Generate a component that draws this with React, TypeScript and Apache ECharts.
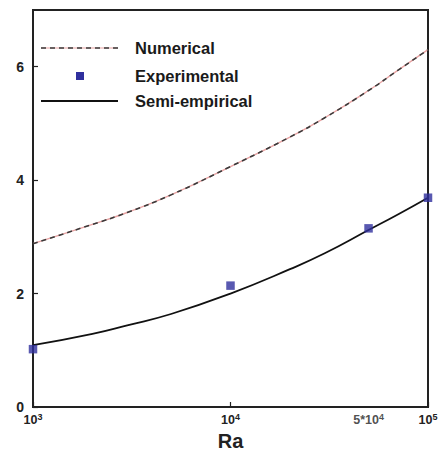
import React, { useEffect, useRef } from 'react';
import * as echarts from 'echarts';

// Rayleigh numbers at which the curves were read
const raValues = [1000, 2000, 3000, 5000, 10000, 20000, 30000, 50000, 70000, 100000];
// Numerical curve (dashed)
const numerical = [2.88, 3.22, 3.43, 3.74, 4.24, 4.76, 5.1, 5.58, 5.93, 6.3];
// Semi-empirical curve (solid)
const semiEmpirical = [1.09, 1.29, 1.44, 1.64, 2.0, 2.43, 2.71, 3.12, 3.39, 3.69];
// Experimental points
const expRa = [1000, 10000, 50000, 100000];
const experimental = [1.02, 2.14, 3.15, 3.69];
// Extra x tick label (not a power of ten)
const extraTickRa = [50000];
const extraTickLabels = ['5*10{s|4}'];
// Legend names
const legendNames = ['Numerical', 'Experimental', 'Semi-empirical'];

const FONT = '"Liberation Sans", Arial, Helvetica, sans-serif';
const supRich = {
  s: { fontSize: 9, fontWeight: 'bold', fontFamily: FONT, color: '#222', verticalAlign: 'top', padding: [0, 0, 7, 0] },
};

export default function App() {
  const ref = useRef<HTMLDivElement>(null);
  useEffect(() => {
    if (!ref.current) return;
    const chart = echarts.init(ref.current, null, { renderer: 'svg' });
    const lineData = (vals: number[]) => raValues.map((r, i) => [r, vals[i]]);
    const legendText = (text: string, y: number) => ({
      type: 'text',
      x: 135,
      y,
      style: { text, fontSize: 16.5, fontWeight: 'bold', fontFamily: FONT, fill: '#1a1a1a', verticalAlign: 'middle' },
    });
    chart.setOption({
      animation: false,
      backgroundColor: '#ffffff',
      grid: {
        left: 33,
        right: 15,
        top: 10,
        bottom: 44,
        show: true,
        borderColor: '#222',
        borderWidth: 2,
        outerBoundsMode: 'none',
      },
      xAxis: {
        type: 'log',
        logBase: 10,
        min: 1000,
        max: 100000,
        name: 'Ra',
        nameLocation: 'middle',
        nameGap: 22,
        nameTextStyle: { fontSize: 20, fontWeight: 'bold', fontFamily: FONT, color: '#222' },
        axisLine: { lineStyle: { color: '#222', width: 2 } },
        axisTick: { inside: true, length: 5, lineStyle: { color: '#222', width: 1.2 } },
        minorTick: { show: false },
        splitLine: { show: false },
        axisLabel: {
          margin: 5,
          fontSize: 12.5,
          fontWeight: 'bold',
          fontFamily: FONT,
          color: '#222',
          formatter: (v: number) => `10{s|${Math.round(Math.log10(v))}}`,
          rich: supRich,
        },
      },
      yAxis: {
        type: 'value',
        min: 0,
        max: 7,
        interval: 2,
        axisLine: { show: true, lineStyle: { color: '#222', width: 2 } },
        axisTick: { show: true, inside: true, length: 5, lineStyle: { color: '#222', width: 1.2 } },
        splitLine: { show: false },
        axisLabel: {
          margin: 9,
          fontSize: 14,
          fontWeight: 'bold',
          fontFamily: FONT,
          color: '#222',
          showMaxLabel: false,
        },
      },
      graphic: [
        { type: 'line', shape: { x1: 41, y1: 48, x2: 118, y2: 48 }, style: { stroke: '#e8a3a3', lineWidth: 1.2 } },
        { type: 'line', shape: { x1: 41, y1: 48, x2: 118, y2: 48 }, style: { stroke: '#3a3a3a', lineWidth: 1.6, lineDash: [5, 4] } },
        legendText(legendNames[0], 48),
        { type: 'rect', shape: { x: 76, y: 72, width: 8, height: 8 }, style: { fill: '#30309e' } },
        legendText(legendNames[1], 76),
        { type: 'line', shape: { x1: 41, y1: 101, x2: 118, y2: 101 }, style: { stroke: '#111', lineWidth: 1.8 } },
        legendText(legendNames[2], 101),
      ],
      series: [
        {
          name: legendNames[0] + ' (shade)',
          type: 'line',
          data: lineData(numerical),
          smooth: 0.5,
          symbol: 'none',
          lineStyle: { color: '#e8a3a3', width: 1.4 },
          silent: true,
        },
        {
          name: legendNames[0],
          type: 'line',
          data: lineData(numerical),
          smooth: 0.5,
          symbol: 'none',
          lineStyle: { color: '#3a3a3a', width: 1.6, type: [5, 4] },
        },
        {
          name: legendNames[2],
          type: 'line',
          data: lineData(semiEmpirical),
          smooth: 0.5,
          symbol: 'none',
          lineStyle: { color: '#111', width: 1.8 },
        },
        {
          name: legendNames[1],
          type: 'scatter',
          data: expRa.map((r, i) => [r, experimental[i]]),
          symbol: 'rect',
          symbolSize: 8.5,
          itemStyle: { color: '#30309e' },
          clip: false,
          z: 5,
        },
        {
          name: 'extra tick label',
          type: 'scatter',
          data: extraTickRa.map((r, i) => ({ value: [r, 0], label: { formatter: extraTickLabels[i] } })),
          symbolSize: 0,
          silent: true,
          clip: false,
          label: {
            show: true,
            position: 'bottom',
            distance: 5,
            fontSize: 12.5,
            fontWeight: 'bold',
            fontFamily: FONT,
            color: '#222',
            rich: supRich,
          },
        },
      ],
    });
    return () => chart.dispose();
  }, []);
  return <div ref={ref} style={{ position: 'fixed', left: 0, top: 0, width: 443, height: 451 }} />;
}
